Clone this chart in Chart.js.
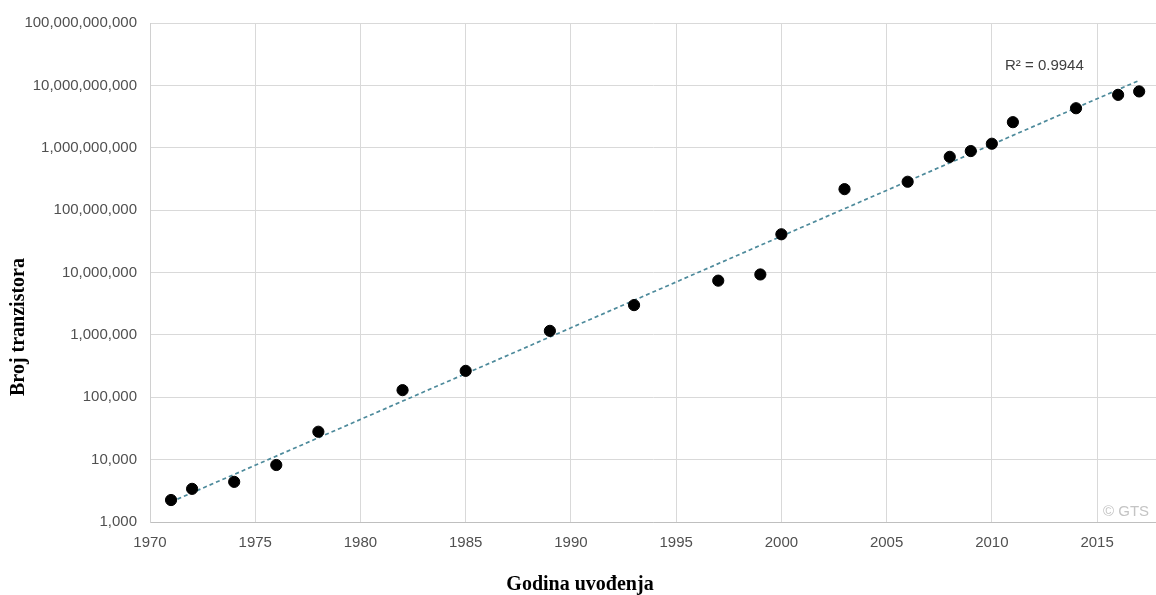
<!DOCTYPE html>
<html>
<head>
<meta charset="utf-8">
<script src="https://cdn.jsdelivr.net/npm/chart.js@4.4.1/dist/chart.umd.min.js"></script>
<style>
html,body{margin:0;padding:0;background:#fff;overflow:hidden;}
#wrap{position:relative;width:1156px;height:595px;}
</style>
</head>
<body>
<div id="wrap"><canvas id="c"></canvas></div>
<script>
// Data
const years = [1971, 1972, 1974, 1976, 1978, 1982, 1985, 1989, 1993, 1997, 1999, 2000, 2003, 2006, 2008, 2009, 2010, 2011, 2014, 2016, 2017];
const transistors = [2250, 3400, 4400, 8200, 28000, 130000, 265000, 1160000, 3000000, 7400000, 9300000, 41000000, 217000000, 285000000, 715000000, 885000000, 1160000000, 2570000000, 4300000000, 7050000000, 8000000000];
const trendYears = [1971, 2017];
const trendValues = [2100, 12000000000];
const xTicks = [1970, 1975, 1980, 1985, 1990, 1995, 2000, 2005, 2010, 2015];
const yTicks = [1e3, 1e4, 1e5, 1e6, 1e7, 1e8, 1e9, 1e10, 1e11];
const rSquaredLabel = 'R² = 0.9944';
const xTitle = 'Godina uvođenja';
const yTitle = 'Broj tranzistora';
const watermark = '© GTS';

const sansFamily = "'Liberation Sans', Arial, sans-serif";
const tickFont = { family: sansFamily, size: 15 };

const overlay = {
  id: 'overlay',
  afterDraw(chart) {
    const ctx = chart.ctx;
    ctx.save();
    ctx.fillStyle = '#404040';
    ctx.font = "15px " + sansFamily;
    ctx.textAlign = 'left';
    ctx.textBaseline = 'middle';
    ctx.fillText(rSquaredLabel, 1005, 66);
    ctx.fillStyle = '#c4c4c4';
    ctx.fillText(watermark, 1103, 512);
    ctx.fillStyle = '#000';
    ctx.font = "bold 20px 'Liberation Serif', 'Times New Roman', serif";
    ctx.textAlign = 'center';
    ctx.textBaseline = 'alphabetic';
    ctx.fillText(xTitle, 580, 590);
    ctx.translate(24, 327);
    ctx.rotate(-Math.PI / 2);
    ctx.fillText(yTitle, 0, 0);
    ctx.restore();
  }
};

new Chart(document.getElementById('c'), {
  type: 'scatter',
  data: {
    datasets: [
      {
        label: 'Trend',
        type: 'line',
        data: trendYears.map((x, i) => ({ x: x, y: trendValues[i] })),
        borderColor: '#4d8a9b',
        borderWidth: 1.7,
        borderDash: [4, 3],
        pointRadius: 0,
        fill: false,
        order: 2
      },
      {
        label: 'Broj tranzistora',
        data: years.map((x, i) => ({ x: x, y: transistors[i] })),
        backgroundColor: '#000',
        borderColor: '#000',
        pointRadius: 5.6,
        pointHoverRadius: 5.6,
        order: 1
      }
    ]
  },
  options: {
    responsive: true,
    maintainAspectRatio: false,
    animation: false,
    layout: { autoPadding: false, padding: { top: 23, right: 0, left: 0, bottom: 0 } },
    plugins: { legend: { display: false }, tooltip: { enabled: false } },
    scales: {
      x: {
        type: 'linear',
        min: 1970,
        max: 2017.8,
        afterBuildTicks(scale) { scale.ticks = xTicks.map(v => ({ value: v })); },
        afterFit(scale) { scale.height = 73; scale.paddingRight = 0; scale.paddingLeft = 0; },
        grid: { color: '#d9d9d9', lineWidth: 1, drawTicks: false },
        border: { color: '#bfbfbf', width: 1 },
        ticks: { color: '#505050', font: tickFont, padding: 12, maxRotation: 0, callback: v => String(v) }
      },
      y: {
        type: 'logarithmic',
        min: 1000,
        max: 1e11,
        afterBuildTicks(scale) { scale.ticks = yTicks.map(v => ({ value: v })); },
        afterFit(scale) { scale.width = 150; scale.paddingTop = 0; scale.paddingBottom = 0; },
        grid: { color: '#d9d9d9', lineWidth: 1, drawTicks: false },
        border: { color: '#d0d0d0', width: 1 },
        ticks: { color: '#505050', font: tickFont, padding: 13, callback: v => Number(v).toLocaleString('en-US') }
      }
    }
  },
  plugins: [overlay]
});
</script>
</body>
</html>
